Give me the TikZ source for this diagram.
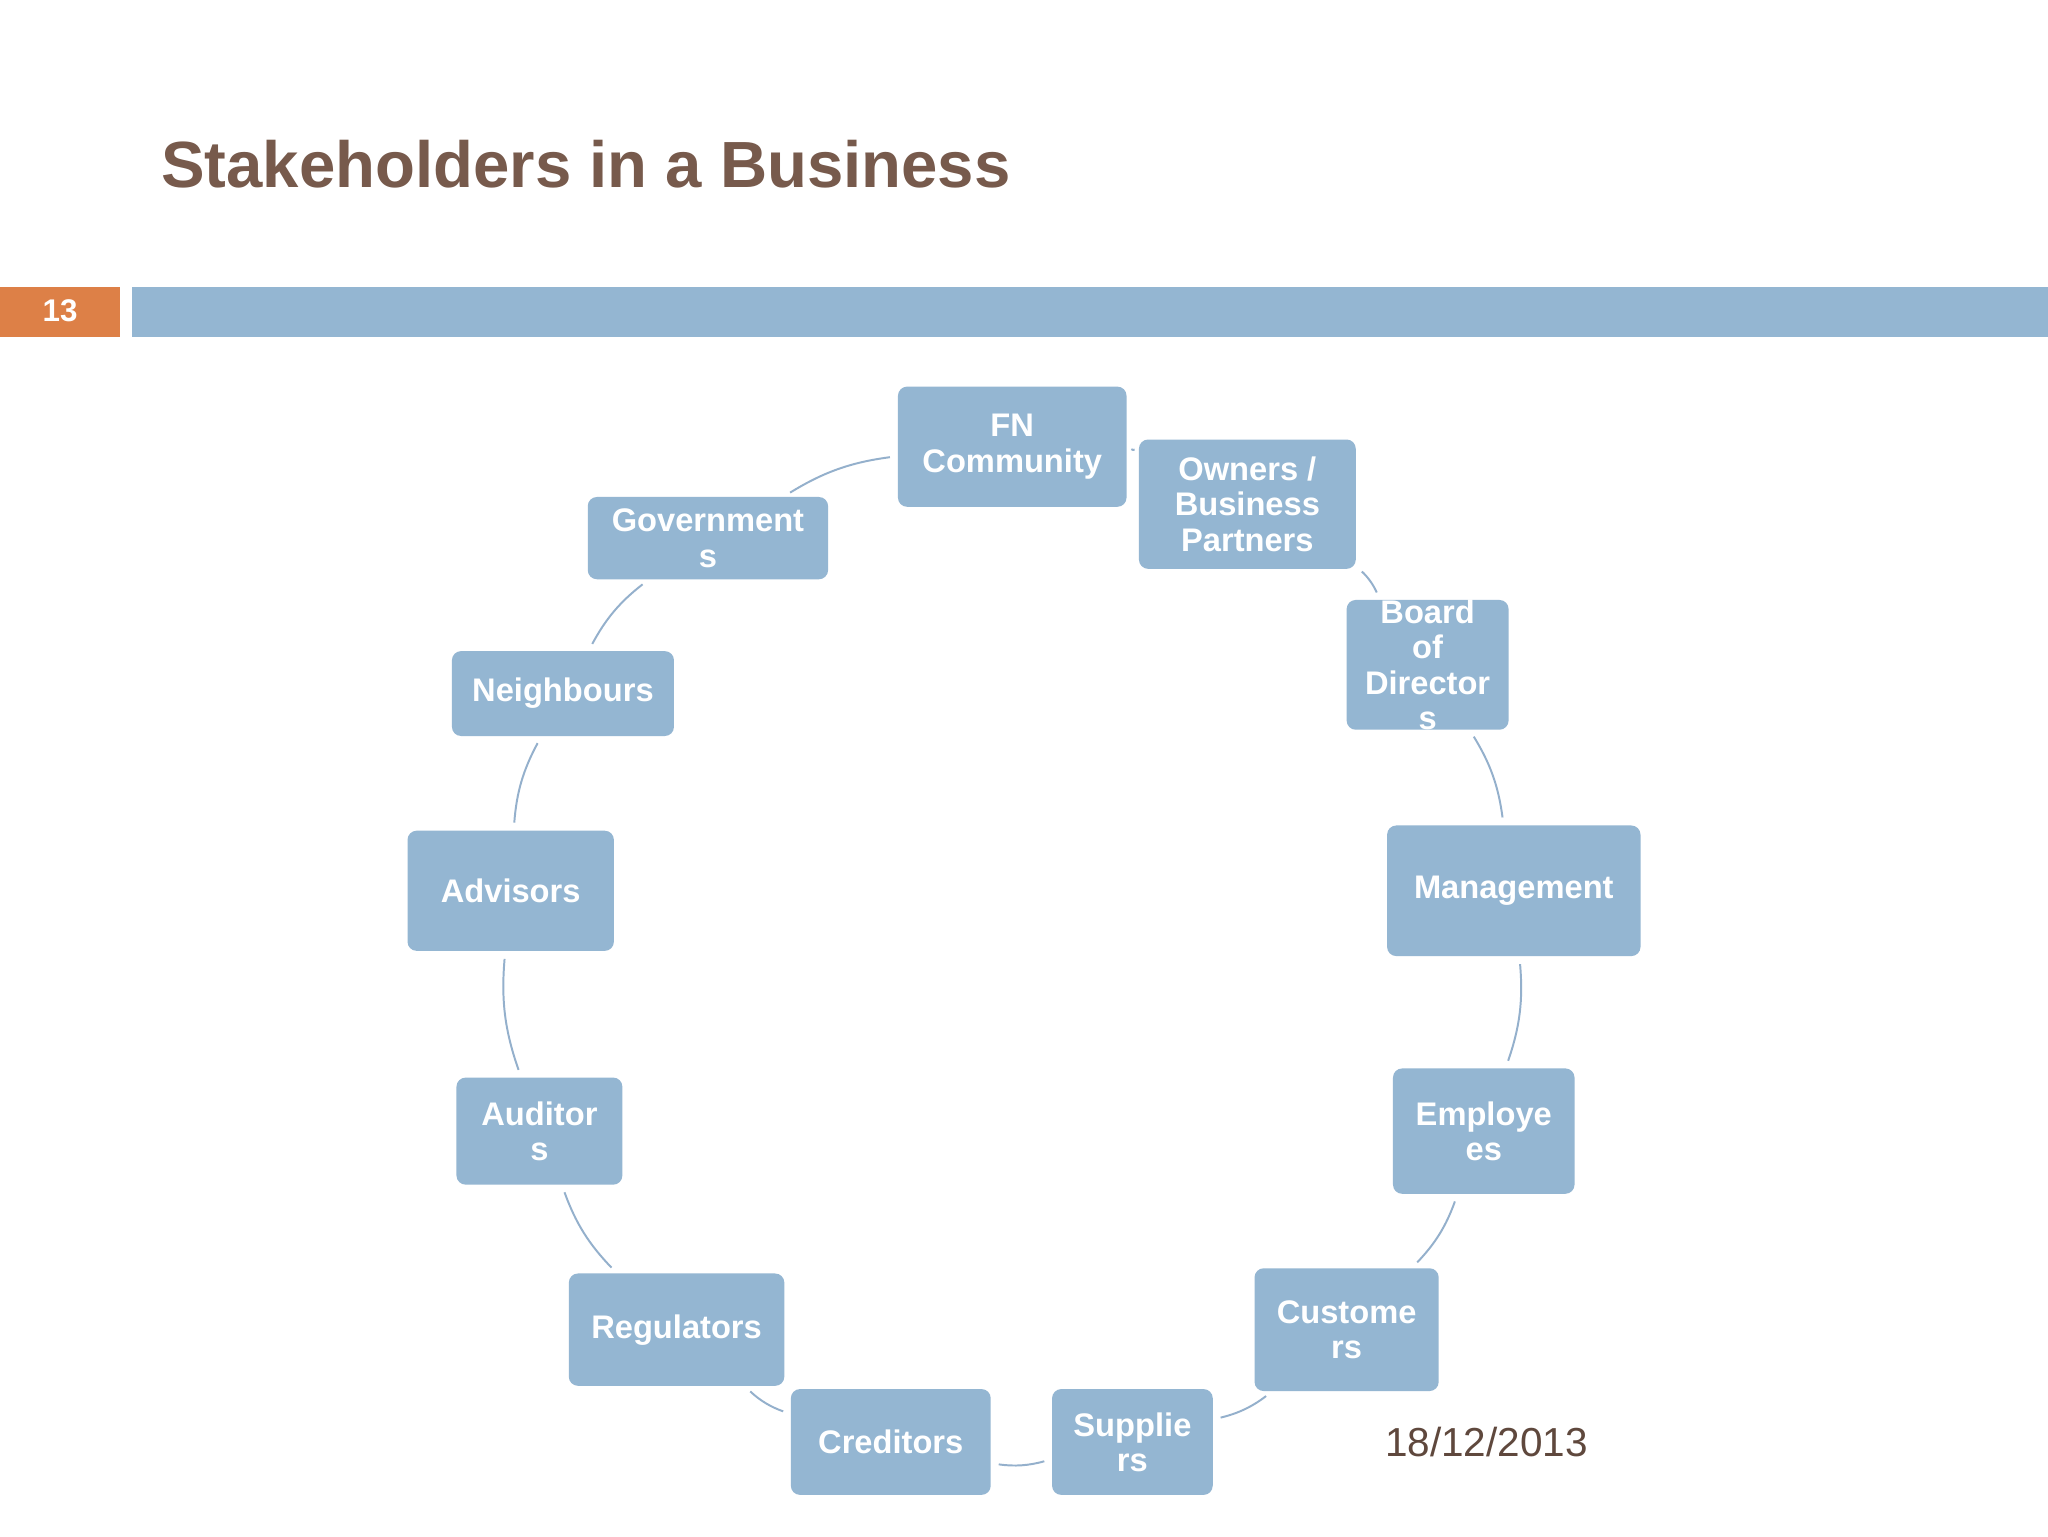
\documentclass[tikz,border=0pt]{standalone}
\usepackage{fontspec}
\setmainfont{Liberation Sans}
\begin{document}
\begin{tikzpicture}[x=1pt,y=-1pt,
  box/.style={fill=boxc,rounded corners=7pt,text=white,font=\bfseries\fontsize{25}{27}\selectfont,align=center,inner sep=0pt},
  conn/.style={draw=linec,line width=1.5pt,shorten >=6pt,shorten <=6pt}]
\definecolor{boxc}{HTML}{94B6D2}
\definecolor{linec}{HTML}{94B0CC}
\definecolor{titlec}{HTML}{775A4C}
\definecolor{orangec}{HTML}{DD8047}
\useasboundingbox (0,0) rectangle (1568,1176);
\fill[white] (0,0) rectangle (1568,1176);
\node[anchor=west,text=titlec,font=\bfseries\fontsize{50}{56}\selectfont] (title) at (120,126) {Stakeholders in a Business};
\fill[orangec] (0,220) rectangle (92,258);
\node[text=white,font=\bfseries\fontsize{24}{26}\selectfont] (num) at (46,238) {13};
\fill[boxc] (101,220) rectangle (1568,258);
\node[box,minimum width=175pt,minimum height=92pt] (fn) at (775,342) {FN\\Community};
\node[box,minimum width=166pt,minimum height=99pt] (own) at (955,386) {Owners /\\Business\\Partners};
\node[box,minimum width=124pt,minimum height=84pt] (bod) at (1093,509) {Board\\of\\Director\\s};
\node[box,minimum width=194pt,minimum height=100pt] (man) at (1159,682) {Management};
\node[box,minimum width=139pt,minimum height=96pt] (emp) at (1136,866) {Employe\\es};
\node[box,minimum width=141pt,minimum height=94pt] (cus) at (1031,1018) {Custome\\rs};
\node[box,minimum width=123pt,minimum height=81pt] (sup) at (867,1104) {Supplie\\rs};
\node[box,minimum width=153pt,minimum height=81pt] (cre) at (682,1104) {Creditors};
\node[box,minimum width=165pt,minimum height=86pt] (reg) at (518,1018) {Regulators};
\node[box,minimum width=127pt,minimum height=82pt] (aud) at (413,866) {Auditor\\s};
\node[box,minimum width=158pt,minimum height=92pt] (adv) at (391,682) {Advisors};
\node[box,minimum width=170pt,minimum height=65pt] (nei) at (431,531) {Neighbours};
\node[box,minimum width=184pt,minimum height=63pt] (gov) at (542,412) {Government\\s};
\node[text=titlec!80!black,font=\fontsize{31}{33}\selectfont] (date) at (1138,1104) {18/12/2013};
\foreach \a/\b in {fn/own,own/bod,bod/man,man/emp,emp/cus,cus/sup,sup/cre,cre/reg,reg/aud,aud/adv,adv/nei,nei/gov,gov/fn}
  \draw[conn] (\a) to[bend left=12] (\b);
\end{tikzpicture}
\end{document}
